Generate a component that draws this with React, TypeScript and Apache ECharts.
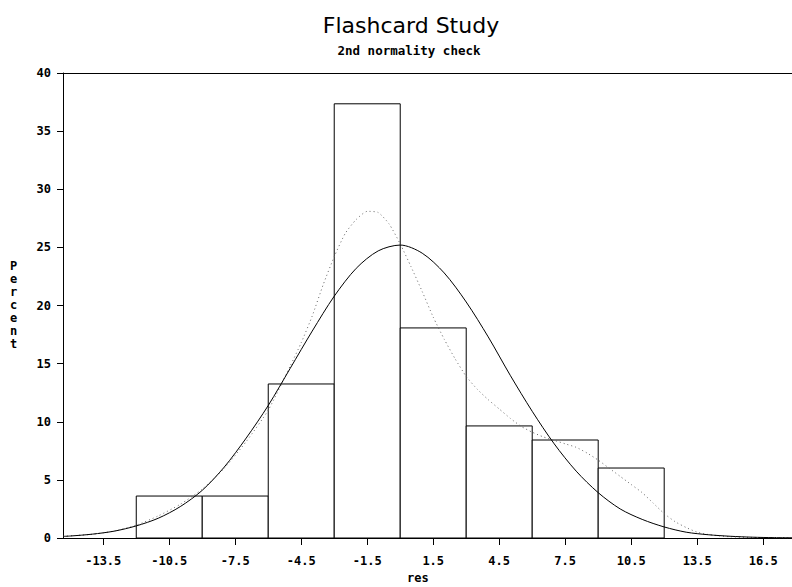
import React, { useEffect, useRef } from "react";
import * as echarts from "echarts";

// Histogram bins (midpoints) and percent of observations
const binCenters = [-10.5, -7.5, -4.5, -1.5, 1.5, 4.5, 7.5, 10.5];
const binPercents = [3.61, 3.61, 13.25, 37.35, 18.07, 9.64, 8.43, 6.02];
const binWidth = 3;

const xTickValues = [-13.5, -10.5, -7.5, -4.5, -1.5, 1.5, 4.5, 7.5, 10.5, 13.5, 16.5];

// Fitted normal curve
const normalX = [-15.33, -15, -14, -13, -12, -11, -10, -9, -8, -7, -6, -5, -4, -3, -2, -1, 0, 1, 2, 3, 4, 5, 6, 7, 8, 9, 10, 11, 12, 13, 14, 15, 16, 17, 17.81];
const normalY = [0.14, 0.17, 0.33, 0.59, 1.04, 1.7, 2.7, 4.1, 6.1, 8.6, 11.4, 14.6, 17.8, 20.8, 23.2, 24.7, 25.2, 24.5, 22.8, 20.3, 17.3, 14.0, 10.9, 8.1, 5.75, 3.9, 2.5, 1.6, 0.95, 0.5, 0.28, 0.15, 0.07, 0.03, 0.02];

// Kernel density curve
const kernelX = [-15.33, -14, -13, -12, -11, -10, -9, -8, -7, -6, -5, -4.5, -4, -3.5, -3, -2.5, -2, -1.5, -1, -0.5, 0, 0.5, 1, 1.5, 2, 2.5, 3, 3.5, 4, 4.5, 5, 5.5, 6, 6.5, 7, 7.5, 8, 8.5, 9, 9.5, 10, 10.5, 11, 11.5, 12, 12.5, 13, 13.5, 14, 15, 16, 17.81];
const kernelY = [0.15, 0.32, 0.6, 1.1, 1.9, 2.9, 4.2, 6.0, 8.3, 11.0, 14.8, 16.8, 19.1, 21.8, 24.2, 26.2, 27.4, 28.1, 28.0, 27.0, 25.3, 23.3, 21.2, 19.0, 17.1, 15.4, 13.9, 12.8, 11.9, 11.1, 10.3, 9.6, 9.1, 8.7, 8.4, 8.1, 7.8, 7.3, 6.7, 6.0, 5.3, 4.6, 3.9, 3.0, 2.1, 1.4, 0.9, 0.5, 0.3, 0.1, 0.05, 0.02];

const X_MIN = -15.33;
const X_MAX = 17.81;

export default function App() {
  const ref = useRef<HTMLDivElement>(null);
  useEffect(() => {
    if (!ref.current) return;
    const chart = echarts.init(ref.current, null, { renderer: "svg" });
    const labelFont = { fontFamily: "DejaVu Sans Mono", fontWeight: "bold" as const, fontSize: 12, color: "#000" };
    chart.setOption({
      animation: false,
      backgroundColor: "#fff",
      grid: { left: 63, right: 0, top: 73, bottom: 49, containLabel: false },
      title: [
        {
          text: "Flashcard Study",
          left: 406,
          top: 9,
          textAlign: "center",
          textStyle: { fontFamily: "DejaVu Sans", fontWeight: "normal", fontSize: 22, color: "#000" },
        },
        {
          text: "2nd normality check",
          left: 404,
          top: 39,
          textAlign: "center",
          textStyle: { fontFamily: "DejaVu Sans Mono", fontWeight: "bold", fontSize: 12.5, color: "#000" },
        },
      ],
      xAxis: [
        {
          type: "value",
          min: X_MIN,
          max: X_MAX,
          axisLine: { show: true, onZero: false, lineStyle: { color: "#000", width: 1 } },
          axisTick: { show: true, length: 7, customValues: xTickValues, lineStyle: { color: "#000" } },
          axisLabel: {
            show: true,
            customValues: xTickValues,
            margin: 17,
            formatter: (v: number) => v.toFixed(1),
            ...labelFont,
          },
          splitLine: { show: false },
        },
        {
          type: "value",
          position: "top",
          min: X_MIN,
          max: X_MAX,
          axisLine: { show: true, onZero: false, lineStyle: { color: "#000", width: 1 } },
          axisTick: { show: false },
          axisLabel: { show: false },
          splitLine: { show: false },
        },
      ],
      yAxis: {
        type: "value",
        min: 0,
        max: 40,
        interval: 5,
        axisLine: { show: true, onZero: false, lineStyle: { color: "#000", width: 1 } },
        axisTick: { show: true, length: 6, lineStyle: { color: "#000" } },
        axisLabel: { show: true, margin: 12, ...labelFont },
        splitLine: { show: false },
      },
      graphic: [
        {
          type: "text",
          left: 10,
          top: 259,
          style: {
            text: "P\ne\nr\nc\ne\nn\nt",
            fontFamily: "DejaVu Sans Mono",
            fontWeight: "bold",
            fontSize: 12,
            lineHeight: 13,
            fill: "#000",
            align: "center",
          },
        },
        {
          type: "text",
          left: 407,
          top: 572,
          style: { text: "res", fontFamily: "DejaVu Sans Mono", fontWeight: "bold", fontSize: 12, fill: "#000" },
        },
      ],
      series: [
        {
          type: "custom",
          xAxisIndex: 0,
          yAxisIndex: 0,
          data: binCenters.map((c, i) => [c, binPercents[i]]),
          renderItem: (_params: any, api: any) => {
            const c = api.value(0);
            const v = api.value(1);
            const p0 = api.coord([c - binWidth / 2, v]);
            const p1 = api.coord([c + binWidth / 2, 0]);
            return {
              type: "rect",
              shape: { x: p0[0], y: p0[1], width: p1[0] - p0[0], height: p1[1] - p0[1] },
              style: { fill: "#fff", stroke: "#000", lineWidth: 1 },
            };
          },
          z: 1,
        },
        {
          type: "line",
          data: kernelX.map((x, i) => [x, kernelY[i]]),
          showSymbol: false,
          smooth: 0.2,
          lineStyle: { color: "#666", width: 1, type: [1, 3] },
          z: 3,
        },
        {
          type: "line",
          data: normalX.map((x, i) => [x, normalY[i]]),
          showSymbol: false,
          smooth: 0.3,
          lineStyle: { color: "#000", width: 1 },
          z: 4,
        },
      ],
    });
    return () => chart.dispose();
  }, []);
  return <div ref={ref} style={{ position: "fixed", left: 0, top: 0, width: 792, height: 587 }} />;
}
